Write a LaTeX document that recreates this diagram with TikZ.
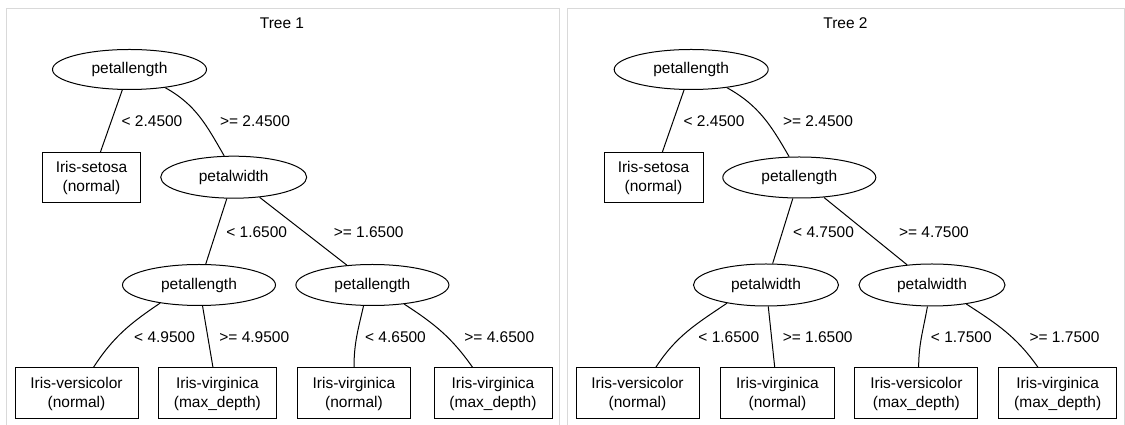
\documentclass[tikz,border=0pt]{standalone}
\usepackage{fontspec}
\setmainfont{Liberation Sans}
\usetikzlibrary{shapes.geometric}
\begin{document}
\begin{tikzpicture}[x=1pt,y=1pt,
  every node/.style={font=\fontsize{15.5}{19}\selectfont, inner sep=0pt},
  ell/.style={draw, ellipse, line width=1pt, minimum height=41pt},
  leaf/.style={draw, rectangle, line width=1pt, align=center, minimum height=51pt},
  conn/.style={draw, line width=1pt},
  lbl/.style={},
  panel/.style={draw=black!15, line width=1pt}]
\useasboundingbox (0,0) rectangle (1125,425);
\draw[panel] (6,-10) rectangle (559,416);
\draw[panel] (567.5,-10) rectangle (1124,416);

% ---------- Tree 1 ----------
\node (t1) at (282,402) {Tree 1};
\node[ell, minimum width=154pt, minimum height=40pt] (r1) at (129.5,355.5) {petallength};
\node[leaf, minimum width=98pt, minimum height=50pt] (s1) at (91.5,247.5) {Iris-setosa\\(normal)};
\node[ell, minimum width=146pt, minimum height=42pt] (w1) at (233.7,247.8) {petalwidth};
\node[ell, minimum width=153pt] (l1) at (199,140) {petallength};
\node[ell, minimum width=153pt] (q1) at (372.4,140) {petallength};
\node[leaf, minimum width=123pt] (a1) at (76.5,31.5) {Iris-versicolor\\(normal)};
\node[leaf, minimum width=118pt] (b1) at (217.4,31.5) {Iris-virginica\\(max\_depth)};
\node[leaf, minimum width=113pt] (c1) at (354,31.5) {Iris-virginica\\(normal)};
\node[leaf, minimum width=118pt] (d1) at (493,31.5) {Iris-virginica\\(max\_depth)};

\draw[conn] (r1) -- (s1);
\draw[conn] (r1.-27) to[out=-29,in=120] (w1.114);
\draw[conn] (w1) -- (l1);
\draw[conn] (w1) -- (q1);
\draw[conn] (l1.205) to[out=214,in=57] (a1.57);
\draw[conn] (l1) -- (b1);
\draw[conn] (q1.-113) to[out=-103,in=90] (c1.north);
\draw[conn] (q1.-31) to[out=-33,in=125] (d1.128);

\node[lbl] (e1a) at (152,304) {< 2.4500};
\node[lbl] (e1b) at (255,304) {>= 2.4500};
\node[lbl] (e1c) at (256.7,193) {< 1.6500};
\node[lbl] (e1d) at (368.7,193) {>= 1.6500};
\node[lbl] (e1e) at (164.6,88) {< 4.9500};
\node[lbl] (e1f) at (254.3,88) {>= 4.9500};
\node[lbl] (e1g) at (395.5,88) {< 4.6500};
\node[lbl] (e1h) at (499.3,88) {>= 4.6500};

% ---------- Tree 2 ----------
\node (t2) at (845.5,402) {Tree 2};
\node[ell, minimum width=154pt, minimum height=40pt] (r2) at (691.2,355.5) {petallength};
\node[leaf, minimum width=99pt, minimum height=50pt] (s2) at (653.5,247.5) {Iris-setosa\\(normal)};
\node[ell, minimum width=153pt] (w2) at (799.3,247.5) {petallength};
\node[ell, minimum width=145pt, minimum height=42pt] (l2) at (766,140) {petalwidth};
\node[ell, minimum width=146pt, minimum height=42pt] (q2) at (932,140) {petalwidth};
\node[leaf, minimum width=123pt] (a2) at (637.5,31.5) {Iris-versicolor\\(normal)};
\node[leaf, minimum width=114pt] (b2) at (777.5,31.5) {Iris-virginica\\(normal)};
\node[leaf, minimum width=123pt] (c2) at (916.4,31.5) {Iris-versicolor\\(max\_depth)};
\node[leaf, minimum width=118pt] (d2) at (1057.7,31.5) {Iris-virginica\\(max\_depth)};

\draw[conn] (r2) -- (s2);
\draw[conn] (r2.-27) to[out=-29,in=120] (w2.116);
\draw[conn] (w2) -- (l2);
\draw[conn] (w2) -- (q2);
\draw[conn] (l2.205) to[out=214,in=57] (a2.55);
\draw[conn] (l2) -- (b2);
\draw[conn] (q2.-102) to[out=-100,in=90] (c2.85);
\draw[conn] (q2.-29) to[out=-33,in=125] (d2.127);

\node[lbl] (e2a) at (714,304) {< 2.4500};
\node[lbl] (e2b) at (818,304) {>= 2.4500};
\node[lbl] (e2c) at (823.6,193) {< 4.7500};
\node[lbl] (e2d) at (933.9,193) {>= 4.7500};
\node[lbl] (e2e) at (728.8,88) {< 1.6500};
\node[lbl] (e2f) at (817.7,88) {>= 1.6500};
\node[lbl] (e2g) at (961.3,88) {< 1.7500};
\node[lbl] (e2h) at (1064.5,88) {>= 1.7500};
\end{tikzpicture}
\end{document}
